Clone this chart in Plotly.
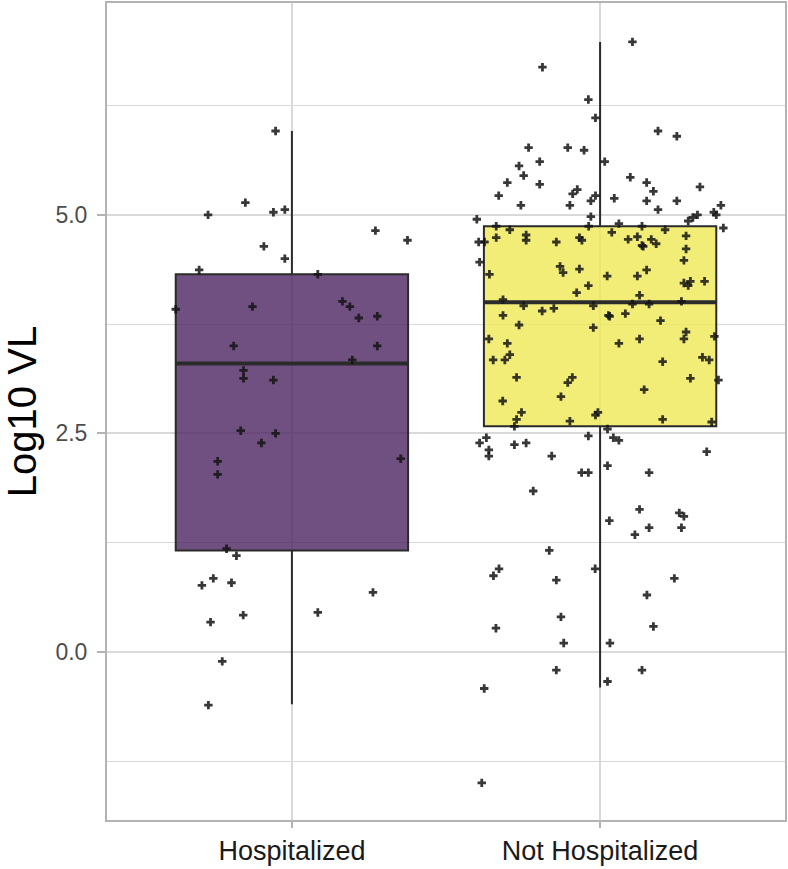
import plotly.graph_objects as go

# ---------------- data ----------------
categories = ["Hospitalized", "Not Hospitalized"]

# box statistics (log10 VL)
box_q1 = [1.16, 2.58]
box_median = [3.30, 4.00]
box_q3 = [4.32, 4.87]
box_lower = [-0.60, -0.41]
box_upper = [5.96, 6.98]

# jittered observations: value and horizontal jitter (in category units)
hosp_vl = [5.96, 5.14, 5.00, 5.03, 5.06, 4.64, 4.50, 4.37, 3.92, 3.95,
           3.50, 3.22, 3.13, 3.11, 4.82, 4.71, 4.32, 4.01, 3.95, 3.82,
           3.84, 3.50, 3.34, 2.53, 2.50, 2.39, 2.18, 2.03, 1.18, 1.10,
           0.84, 0.76, 0.79, 0.42, 0.34, -0.11, -0.61, 2.21, 0.68, 0.45]
hosp_jit = [-0.053, -0.151, -0.272, -0.060, -0.023, -0.091, -0.023, -0.301, -0.377, -0.128,
            -0.189, -0.157, -0.157, -0.060, 0.271, 0.375, 0.084, 0.164, 0.188, 0.217,
            0.277, 0.277, 0.196, -0.166, -0.053, -0.099, -0.241, -0.241, -0.212, -0.180,
            -0.255, -0.292, -0.196, -0.158, -0.264, -0.226, -0.271, 0.353, 0.263, 0.084]

nonhosp_vl = [6.69, 6.32, 6.11, 5.77, 5.77, 5.74, 5.61, 5.56, 5.45, 5.37,
              5.35, 5.22, 5.24, 5.29, 5.11, 5.11, 5.16, 5.22, 4.95, 4.98,
              4.87, 4.87, 4.69, 4.69, 4.74, 4.83, 4.77, 4.71, 4.69, 4.74,
              4.71, 4.46, 4.41, 4.34, 4.38, 4.32, 4.19, 4.11, 4.03,
              6.98, 5.96, 5.90, 5.61, 5.43, 5.37, 5.27, 5.32, 5.19, 5.16,
              5.16, 5.06, 5.11, 5.03, 5.00, 5.00, 4.97, 4.93, 4.85, 4.90,
              4.87, 4.83, 4.80, 4.76, 4.72, 4.75, 4.72, 4.67, 4.65, 4.64,
              4.61, 4.48, 4.37, 4.30, 4.30, 4.22, 4.19, 4.24, 4.24, 4.08,
              3.98, 3.98, 4.01, 3.85, 3.84, 3.87, 3.79, 3.66, 3.58, 3.61,
              3.58, 3.53, 3.32, 3.37, 3.34, 3.11, 3.13, 3.00, 2.66, 2.63,
              2.55, 2.45, 2.42, 2.29, 2.13, 2.05, 1.63, 1.59, 1.55, 1.50,
              1.42, 1.42, 1.34,
              3.96, 3.90, 3.93, 3.96, 3.85, 3.74, 3.71, 3.58, 3.53, 3.40,
              3.34, 3.34, 3.14, 3.14, 3.08, 2.92, 2.87, 2.74, 2.66, 2.74,
              2.71, 2.64, 2.58, 2.45, 2.39, 2.31, 2.24, 2.37, 2.39, 2.47,
              2.24, 2.05, 2.05, 1.84, 1.16,
              0.95, 0.87, 0.95, 0.82, 0.27, 0.40, 0.10, -0.21, -0.42, -1.50,
              0.84, 0.65, 0.29, 0.10, -0.21, -0.34]
nonhosp_jit = [-0.187, -0.038, -0.015, -0.232, -0.105, -0.052, -0.196, -0.263, -0.248, -0.301,
               -0.196, -0.329, -0.089, -0.074, -0.257, -0.098, -0.030, -0.015, -0.400, -0.030,
               -0.037, -0.337, -0.394, -0.375, -0.337, -0.293, -0.240, -0.240, -0.142, -0.067,
               -0.059, -0.391, -0.130, -0.120, -0.067, -0.359, -0.038, -0.076, -0.315,
               0.105, 0.188, 0.249, 0.015, 0.098, 0.151, 0.173, 0.324, 0.046, 0.151,
               0.249, 0.188, 0.392, 0.369, 0.377, 0.316, 0.301, 0.286, 0.400, 0.061,
               0.136, 0.211, 0.038, 0.279, 0.091, 0.121, 0.166, 0.182, 0.136, 0.140,
               0.279, 0.272, 0.151, 0.023, 0.121, 0.272, 0.286, 0.293, 0.339, 0.128,
               0.105, 0.159, 0.264, 0.027, 0.031, 0.082, 0.196, 0.279, 0.272, 0.371,
               0.128, 0.061, 0.203, 0.332, 0.354, 0.384, 0.293, 0.143, 0.203, 0.362,
               0.024, 0.043, 0.061, 0.346, 0.024, 0.159, 0.128, 0.257, 0.272, 0.030,
               0.159, 0.264, 0.113,
               -0.248, -0.188, -0.150, -0.022, -0.315, -0.263, -0.022, -0.361, -0.301, -0.293,
               -0.309, -0.347, -0.271, -0.090, -0.105, -0.127, -0.316, -0.255, -0.271, -0.007,
               -0.015, -0.098, -0.278, -0.369, -0.391, -0.361, -0.361, -0.278, -0.240, -0.038,
               -0.157, -0.060, -0.038, -0.217, -0.165,
               -0.328, -0.346, -0.016, -0.142, -0.338, -0.127, -0.118, -0.142, -0.376, -0.384,
               0.241, 0.152, 0.173, 0.032, 0.136, 0.024]

y_major_ticks = [0.0, 2.5, 5.0]
y_major_labels = ["0.0", "2.5", "5.0"]
y_minor_ticks = [-1.25, 1.25, 3.75, 6.25]

# ---------------- style ----------------
fills = ["rgba(76,36,96,0.8)", "rgba(239,232,84,0.8)"]
edge = "#2b2b2b"
box_width = 0.754
grid_col = "#d9d9d9"
border_col = "#b3b3b3"
FONT = "Liberation Sans, Arial, sans-serif"

fig = go.Figure()

for i, cat in enumerate(categories):
    fig.add_trace(go.Box(
        x=[i], q1=[box_q1[i]], median=[box_median[i]], q3=[box_q3[i]],
        lowerfence=[box_lower[i]], upperfence=[box_upper[i]],
        width=box_width, whiskerwidth=0, boxpoints=False,
        fillcolor=fills[i], line=dict(color=edge, width=2),
        showlegend=False, hoverinfo="skip"))
    # thicker median bar, as in ggplot
    fig.add_trace(go.Scatter(
        x=[i - box_width / 2, i + box_width / 2], y=[box_median[i]] * 2,
        mode="lines", line=dict(color=edge, width=4),
        showlegend=False, hoverinfo="skip"))

point_sets = [(hosp_vl, hosp_jit), (nonhosp_vl, nonhosp_jit)]
for i, (vals, jit) in enumerate(point_sets):
    fig.add_trace(go.Scatter(
        x=[i + j for j in jit], y=vals, mode="markers",
        marker=dict(symbol="cross", size=7, color="rgba(20,20,20,0.85)",
                    line=dict(width=0)),
        showlegend=False))

fig.update_layout(
    width=788, height=869,
    margin=dict(l=107, r=2, t=1, b=49),
    paper_bgcolor="white", plot_bgcolor="white",
    font=dict(family=FONT),
    xaxis=dict(
        range=[-0.6, 1.6], tickmode="array", tickvals=[0, 1], ticktext=categories,
        tickfont=dict(size=27, color="#1a1a1a", family=FONT),
        showgrid=True, gridcolor=grid_col, gridwidth=1.6,
        zeroline=False, showline=True, linecolor=border_col, linewidth=2, mirror=True,
        ticks="outside", ticklen=6, tickcolor=border_col, tickwidth=1.5),
    yaxis=dict(
        range=[-1.925, 7.425], tickmode="array", tickvals=y_major_ticks,
        ticktext=y_major_labels,
        tickfont=dict(size=23, color="#4d4d4d", family=FONT),
        ticklabelstandoff=5,
        showgrid=True, gridcolor=grid_col, gridwidth=1.6,
        minor=dict(tickmode="array", tickvals=y_minor_ticks, showgrid=True,
                   gridcolor=grid_col, gridwidth=1.3, ticks=""),
        zeroline=False, showline=True, linecolor=border_col, linewidth=2, mirror=True,
        ticks="outside", ticklen=8, tickcolor=border_col, tickwidth=1.5,
        title=dict(text="Log10 VL", font=dict(size=40, color="black", family=FONT),
                   standoff=18)),
)

fig.write_html("out.html", config={"displayModeBar": False},
               post_script="document.body.style.margin='0';")
